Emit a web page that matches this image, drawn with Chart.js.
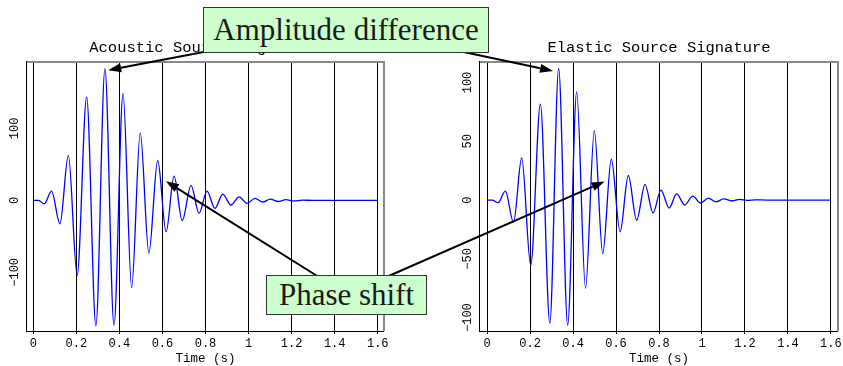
<!DOCTYPE html>
<html lang="en">
<head>
<meta charset="UTF-8">
<title>Source Signatures</title>
<script src="https://cdn.jsdelivr.net/npm/chart.js"></script>
<style>
  html, body { margin: 0; padding: 0; background: #fff; overflow: hidden; }
  #wrap { position: relative; width: 843px; height: 366px; }
  .plot { position: absolute; top: 0; }
  #arrows { position: absolute; left: 0; top: 0; z-index: 2; }
  .note {
    position: absolute; z-index: 3; box-sizing: border-box;
    background: #ccffcc; border: 1px solid #333;
    font-family: "Liberation Serif", serif; font-size: 31px; color: #1a1a1a;
    text-align: center; white-space: nowrap;
  }
</style>
</head>
<body>
<div id="wrap">
  <canvas id="acoustic" class="plot" style="left:0" width="420" height="366"></canvas>
  <canvas id="elastic" class="plot" style="left:420px" width="423" height="366"></canvas>
  <canvas id="arrows" width="843" height="366"></canvas>
  <div class="note" style="left:203px;top:7px;width:286px;height:46px;line-height:43px">Amplitude difference</div>
  <div class="note" style="left:266px;top:275px;width:161px;height:40px;line-height:37px">Phase shift</div>
</div>

<script>
// extrema of the two wavelets (time s, amplitude)
const acousticTime = [0, 0.025, 0.051, 0.085, 0.124, 0.163, 0.204, 0.248, 0.291, 0.333, 0.375, 0.417, 0.457, 0.497, 0.537, 0.578, 0.617, 0.654, 0.692, 0.733, 0.770, 0.807, 0.844, 0.880, 0.918, 0.956, 0.993, 1.030, 1.066, 1.101, 1.138, 1.174, 1.21, 1.25, 1.30, 1.6];
const acousticAmp = [0, 0, -4.7, 13, -32.5, 62.5, -104, 144, -174.6, 183, -173.6, 148.6, -121, 94, -73, 55.5, -43.5, 33.7, -28, 21, -18, 13, -11, 8.7, -6.5, 5, -4, 2.7, -2.4, 1.8, -1.5, 1, -0.7, 0.4, 0, 0];

const elasticTime = [0, 0.025, 0.051, 0.085, 0.123, 0.161, 0.203, 0.248, 0.292, 0.333, 0.375, 0.417, 0.458, 0.499, 0.538, 0.578, 0.619, 0.657, 0.696, 0.735, 0.772, 0.809, 0.847, 0.882, 0.920, 0.957, 0.994, 1.030, 1.065, 1.102, 1.140, 1.175, 1.21, 1.25, 1.30, 1.6];
const elasticAmp = [0, 0, -2.3, 7.6, -19, 35.8, -55.7, 81.6, -104.8, 111.9, -106.5, 92, -75, 59, -45.5, 34.7, -27, 20.9, -17.2, 13.3, -11, 8.5, -6.8, 5.3, -4.2, 3.4, -2.5, 1.7, -1.5, 1, -0.8, 0.5, -0.3, 0.2, 0, 0];

const xTicks = [0, 0.2, 0.4, 0.6, 0.8, 1, 1.2, 1.4, 1.6];
const acousticYTicks = [-100, 0, 100];
const elasticYTicks = [-100, -50, 0, 50, 100];

// arrow tips in data coords, tails in page pixels (hidden under the boxes)
const pointers = [
  { chart: 'acoustic', t: 0.348, v: 181, tail: [230, 47] },
  { chart: 'elastic', t: 0.307, v: 109.8, tail: [440, 47] },
  { chart: 'acoustic', t: 0.616, v: 26.8, tail: [330, 284] },
  { chart: 'elastic', t: 0.547, v: 15.8, tail: [375, 282] }
];

const MONO = '"Liberation Mono", "Courier New", monospace';
const fmt = v => v < 0 ? '\u2212' + Math.abs(v) : String(+v.toFixed(1));

const framePlugin = {
  id: 'frame',
  afterDraw(chart) {
    const { ctx, chartArea: a } = chart;
    ctx.save();
    ctx.fillStyle = '#888';
    ctx.fillRect(a.left, a.top - 2, a.right - a.left + 1, 2);
    ctx.fillRect(a.right - 1, a.top - 2, 2, a.bottom - a.top + 2);
    ctx.fillStyle = '#000';
    ctx.fillRect(a.left - 1, a.top - 2, 1, a.bottom - a.top + 3);
    ctx.fillRect(a.left - 1, a.bottom, a.right - a.left + 1, 1);
    // rotated y tick labels
    const ys = chart.scales.y;
    ctx.font = '12px ' + MONO;
    ctx.textAlign = 'center';
    ctx.textBaseline = 'middle';
    ys.ticks.forEach(t => {
      ctx.save();
      ctx.translate(a.left - 12, ys.getPixelForValue(t.value));
      ctx.rotate(-Math.PI / 2);
      ctx.fillText(fmt(t.value), 0, 0);
      ctx.restore();
    });
    ctx.restore();
  }
};

function makeChart(id, times, amps, yTicks, yMin, yMax, xMin, xMax, title, pad) {
  return new Chart(document.getElementById(id), {
    type: 'line',
    data: {
      datasets: [{
        data: times.map((t, i) => ({ x: t, y: amps[i] })),
        borderColor: '#0000ff',
        borderWidth: 1.3,
        pointRadius: 0,
        cubicInterpolationMode: 'monotone',
        fill: false
      }]
    },
    options: {
      responsive: false,
      animation: false,
      layout: { padding: { left: pad[0], right: pad[1], top: 0, bottom: 0 } },
      plugins: {
        legend: { display: false },
        tooltip: { enabled: false },
        title: {
          display: true, text: title, color: '#000',
          font: { family: MONO, size: 15.5, weight: 'normal', lineHeight: 1.2 },
          padding: { top: 39, bottom: 5.4 }
        }
      },
      scales: {
        x: {
          type: 'linear', min: xMin, max: xMax,
          afterBuildTicks: s => { s.ticks = xTicks.map(v => ({ value: v })); },
          afterFit: s => { s.height = 35; s.paddingLeft = 0; s.paddingRight = 0; },
          grid: { color: '#000', lineWidth: 1, tickLength: 3, drawTicks: true },
          border: { display: false },
          ticks: { color: '#000', padding: 3, maxRotation: 0, font: { family: MONO, size: 12 }, callback: v => fmt(v) },
          title: { display: true, text: 'Time (s)', color: '#000', padding: 0, font: { family: MONO, size: 12.5, lineHeight: 1.2 } }
        },
        y: {
          type: 'linear', min: yMin, max: yMax,
          afterBuildTicks: s => { s.ticks = yTicks.map(v => ({ value: v })); },
          afterFit: s => { s.width = 0; },
          grid: { display: false },
          border: { display: false },
          ticks: { display: false }
        }
      }
    },
    plugins: [framePlugin]
  });
}

const charts = {
  acoustic: makeChart('acoustic', acousticTime, acousticAmp, acousticYTicks, -181.5, 191, -0.029, 1.629, 'Acoustic Source Signature', [27, 36]),
  elastic: makeChart('elastic', elasticTime, elasticAmp, elasticYTicks, -111.4, 116.6, -0.033, 1.633, 'Elastic Source Signature', [60, 5])
};

function drawArrow(ctx, x0, y0, x1, y1) {
  const ang = Math.atan2(y1 - y0, x1 - x0), L = 13, W = 4.5;
  const bx = x1 - L * Math.cos(ang), by = y1 - L * Math.sin(ang);
  ctx.beginPath();
  ctx.moveTo(x0, y0);
  ctx.lineTo(bx, by);
  ctx.stroke();
  ctx.beginPath();
  ctx.moveTo(x1, y1);
  ctx.lineTo(bx + W * Math.sin(ang), by - W * Math.cos(ang));
  ctx.lineTo(bx - W * Math.sin(ang), by + W * Math.cos(ang));
  ctx.closePath();
  ctx.fill();
}

const actx = document.getElementById('arrows').getContext('2d');
actx.strokeStyle = '#000';
actx.fillStyle = '#000';
actx.lineWidth = 2;
pointers.forEach(p => {
  const c = charts[p.chart];
  const off = c.canvas.offsetLeft;
  const tx = off + c.scales.x.getPixelForValue(p.t);
  const ty = c.scales.y.getPixelForValue(p.v);
  drawArrow(actx, p.tail[0], p.tail[1], tx, ty);
});
</script>
</body>
</html>
